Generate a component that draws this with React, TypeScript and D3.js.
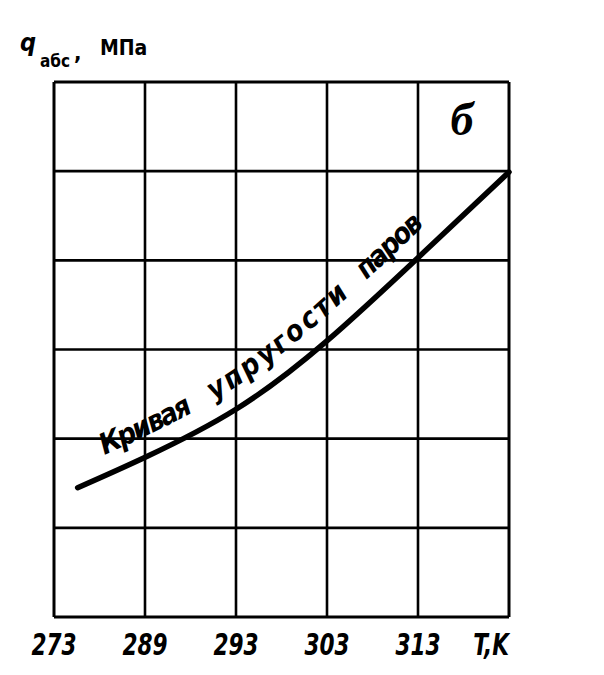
import React from "react";
import * as d3 from "d3";

// x-axis tick labels (temperature, K) placed at the vertical grid lines 0..4
const tLabels = ["273", "289", "293", "303", "313"];
const tAxisName = "T,K";
// number of grid cells
const xCells = 5;
const yCells = 6;
// curve: position along temperature grid (cell index) and pressure (grid cells)
const curveT = [0.26, 1.02, 2.0, 2.98, 4.0, 5.0];
const curveQ = [1.45, 1.80, 2.33, 3.08, 4.03, 4.99];
// curve caption words
const curveWords = ["Кривая", "упругости", "паров"];
const wordStart = [38, 160, 355];
const wordLength = [99, 172, 80];

const W = 604;
const H = 675;

export default function App() {
  const x = d3.scaleLinear().domain([0, xCells]).range([54, 509]);
  const y = d3.scaleLinear().domain([0, yCells]).range([617, 82]);

  const pts: [number, number][] = curveT.map((t, i) => [x(t), y(curveQ[i])]);
  const line = d3.line().curve(d3.curveNatural);
  const curvePath = line(pts) || "";

  // offset path (upper-left side) for the caption
  const off = 19;
  const offPts: [number, number][] = pts.map((p, i) => {
    const a = pts[Math.max(0, i - 1)];
    const b = pts[Math.min(pts.length - 1, i + 1)];
    const dx = b[0] - a[0];
    const dy = b[1] - a[1];
    const len = Math.hypot(dx, dy);
    return [p[0] + (dy / len) * off, p[1] + (-dx / len) * off];
  });
  const offPath = line(offPts) || "";

  const xLines = d3.range(0, xCells + 1);
  const yLines = d3.range(0, yCells + 1);

  const lblFont = "'DejaVu Sans Condensed', 'DejaVu Sans', sans-serif";

  return (
    <svg
      width={W}
      height={H}
      style={{ position: "absolute", left: 0, top: 0, background: "#fff" }}
    >
      <rect x={0} y={0} width={W} height={H} fill="#fff" />
      {/* grid */}
      {xLines.map((i) => (
        <line
          key={"vx" + i}
          x1={x(i)}
          x2={x(i)}
          y1={y(yCells)}
          y2={y(0)}
          stroke="#000"
          strokeWidth={i === 0 || i === xCells ? 3 : 2.6}
        />
      ))}
      {yLines.map((j) => (
        <line
          key={"hy" + j}
          x1={x(0)}
          x2={x(xCells)}
          y1={y(j)}
          y2={y(j)}
          stroke="#000"
          strokeWidth={j === 0 || j === yCells ? 3 : 2.6}
        />
      ))}
      {/* curve */}
      <path
        d={curvePath}
        fill="none"
        stroke="#000"
        strokeWidth={5.5}
        strokeLinecap="round"
      />
      <path id="capPath" d={offPath} fill="none" stroke="none" />
      {curveWords.map((w, i) => (
        <text
          key={w}
          fontFamily={lblFont}
          fontWeight="bold"
          fontStyle="italic"
          fontSize={29}
          fill="#000"
        >
          <textPath
            href="#capPath"
            startOffset={wordStart[i]}
            textLength={wordLength[i]}
            lengthAdjust="spacing"
          >
            {w}
          </textPath>
        </text>
      ))}
      {/* tick labels */}
      {tLabels.map((l, i) => (
        <text
          key={l}
          transform={`translate(${x(i)},655) scale(0.8,1)`}
          textAnchor="middle"
          fontFamily={lblFont}
          fontWeight="bold"
          fontStyle="italic"
          fontSize={30}
          fill="#000"
        >
          {l}
        </text>
      ))}
      <text
        transform={`translate(${x(xCells)},655) scale(0.8,1)`}
        textAnchor="end"
        fontFamily={lblFont}
        fontWeight="bold"
        fontStyle="italic"
        fontSize={30}
        fill="#000"
      >
        {tAxisName}
      </text>
      {/* y axis title */}
      <text x={20} y={51} fontFamily={lblFont} fontWeight="bold" fontStyle="italic" fontSize={25} fill="#000">
        q
      </text>
      <text x={40} y={67} fontFamily={lblFont} fontWeight="bold" fontSize={17} fill="#000">
        абс
      </text>
      <text x={74} y={60} fontFamily={lblFont} fontWeight="bold" fontSize={22} fill="#000">
        ,
      </text>
      <text x={100} y={55} fontFamily={lblFont} fontWeight="bold" fontSize={21} fill="#000">
        МПа
      </text>
      {/* panel letter */}
      <text
        x={462}
        y={135}
        textAnchor="middle"
        fontFamily="'Liberation Serif', serif"
        fontWeight="bold"
        fontStyle="italic"
        fontSize={46}
        fill="#000"
      >
        б
      </text>
    </svg>
  );
}
